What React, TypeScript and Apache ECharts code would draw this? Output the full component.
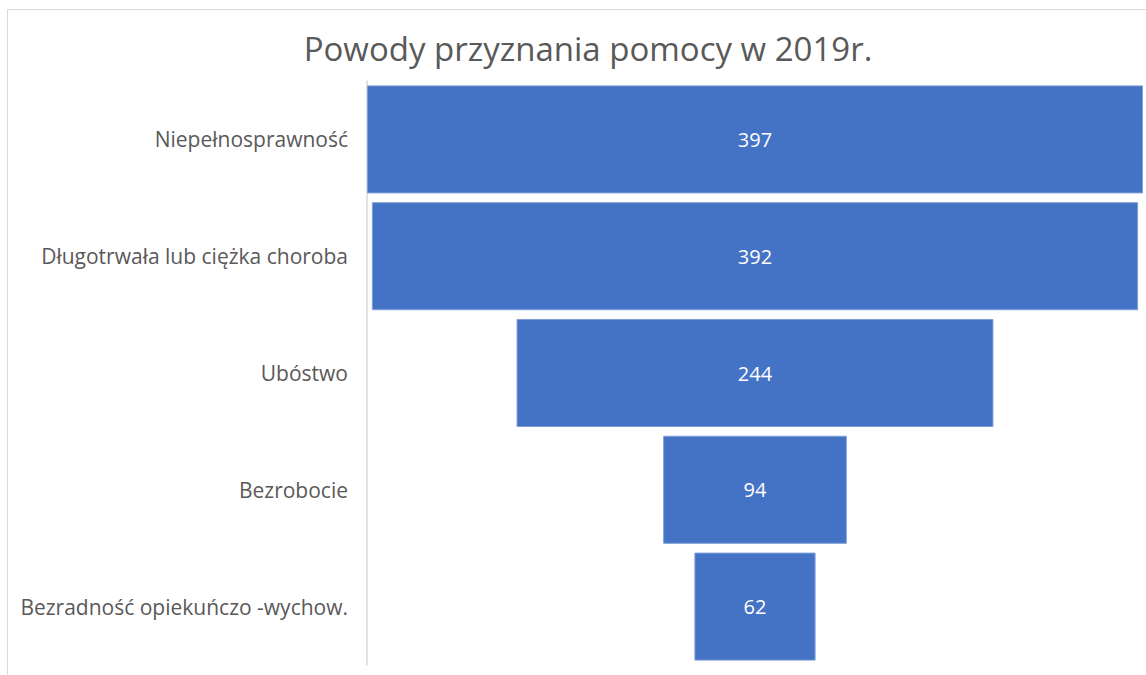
import React, { useEffect, useRef } from "react";
import * as echarts from "echarts";

const title = "Powody przyznania pomocy w 2019r.";
const categories = [
  "Niepełnosprawność",
  "Długotrwała lub ciężka choroba",
  "Ubóstwo",
  "Bezrobocie",
  "Bezradność opiekuńczo -wychow.",
];
const values = [397, 392, 244, 94, 62];

export default function App() {
  const ref = useRef<HTMLDivElement>(null);
  useEffect(() => {
    if (!ref.current) return;
    const chart = echarts.init(ref.current, null, { renderer: "svg" });
    const maxV = Math.max(...values);
    const offsets = values.map((v) => (maxV - v) / 2);
    const font = "'Open Sans', 'Noto Sans', sans-serif";
    chart.setOption({
      animation: false,
      backgroundColor: "#ffffff",
      title: {
        text: title,
        left: 583,
        textAlign: "center",
        top: 27,
        textStyle: { fontFamily: font, fontSize: 33, fontWeight: "normal", color: "#595959" },
      },
      graphic: [
        {
          type: "rect",
          shape: { x: 7.5, y: 9.5, width: 1200, height: 800 },
          style: { fill: "none", stroke: "#d9d9d9", lineWidth: 1 },
          silent: true,
        },
      ],
      grid: { left: 367, right: 3, top: 81, bottom: 10, containLabel: false },
      xAxis: { type: "value", min: 0, max: maxV, show: false },
      yAxis: {
        type: "category",
        data: categories,
        inverse: true,
        axisLine: { show: true, lineStyle: { color: "#d9d9d9", width: 1.5 } },
        axisTick: { show: false },
        axisLabel: { margin: 19, fontFamily: font, fontSize: 21, color: "#595959" },
        splitLine: { show: false },
      },
      series: [
        {
          type: "bar",
          stack: "f",
          data: offsets,
          itemStyle: { color: "transparent" },
          barCategoryGap: "7.5%",
          silent: true,
        },
        {
          type: "bar",
          stack: "f",
          data: values,
          barCategoryGap: "7.5%",
          itemStyle: { color: "#4472C4", borderColor: "#7f9fd8", borderWidth: 1 },
          label: {
            show: true,
            position: "inside",
            color: "#ffffff",
            fontFamily: font,
            fontSize: 20,
          },
        },
      ],
    });
    return () => chart.dispose();
  }, []);
  return (
    <div
      ref={ref}
      style={{ position: "fixed", left: 0, top: 0, width: 1146, height: 675 }}
    />
  );
}
